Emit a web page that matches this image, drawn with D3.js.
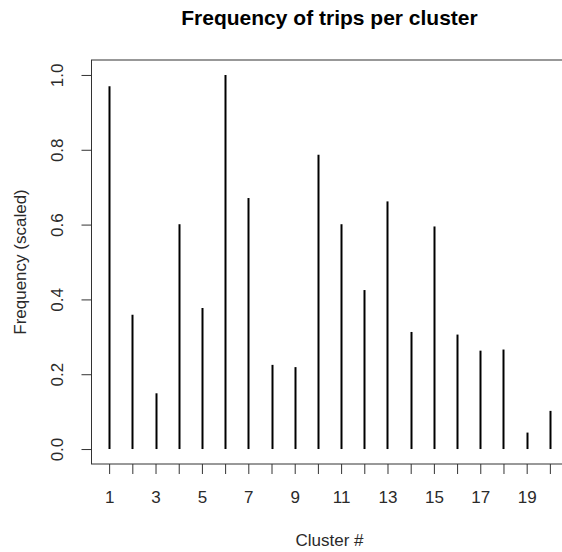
<!DOCTYPE html>
<html>
<head>
<meta charset="utf-8">
<script src="https://cdn.jsdelivr.net/npm/d3@7"></script>
<style>
  html, body { margin: 0; padding: 0; background: #fff; }
  svg { display: block; font-family: "Liberation Sans", Arial, sans-serif; }
</style>
</head>
<body>
<div id="chart"></div>
<script>
// cluster ids and their scaled trip frequencies
const clusters = [1, 2, 3, 4, 5, 6, 7, 8, 9, 10, 11, 12, 13, 14, 15, 16, 17, 18, 19, 20];
const frequency = [0.970, 0.359, 0.149, 0.601, 0.377, 1.000, 0.671, 0.225, 0.219, 0.787,
                   0.601, 0.425, 0.662, 0.313, 0.595, 0.306, 0.263, 0.266, 0.044, 0.102];
const xTickLabels = [1, 3, 5, 7, 9, 11, 13, 15, 17, 19];
const yTicks = [0, 0.2, 0.4, 0.6, 0.8, 1.0];

const width = 562;
const height = 552;
// plot box (R style: 4% padding around the data range)
const boxLeft = 91.5, boxRight = 567.5, boxTop = 60, boxBottom = 464;
const textColor = '#2a2a2a';

const x = d3.scaleLinear()
    .domain([1 - 0.76, 20 + 0.76])
    .range([boxLeft, boxRight]);

const y = d3.scaleLinear()
    .domain([-0.04, 1.04])
    .range([boxBottom, boxTop]);

const svg = d3.select('#chart')
    .append('svg')
    .attr('width', width)
    .attr('height', height)
    .attr('viewBox', [0, 0, width, height]);

const data = clusters.map((c, i) => ({cluster: c, value: frequency[i]}));

// vertical "h" type lines
svg.append('g')
    .attr('stroke', '#000')
    .attr('stroke-width', 2)
    .selectAll('line')
    .data(data)
    .join('line')
    .attr('x1', d => Math.round(x(d.cluster)) + 0.5)
    .attr('x2', d => Math.round(x(d.cluster)) + 0.5)
    .attr('y1', y(0))
    .attr('y2', d => y(d.value));

// box
svg.append('rect')
    .attr('x', boxLeft)
    .attr('y', boxTop)
    .attr('width', boxRight - boxLeft)
    .attr('height', boxBottom - boxTop)
    .attr('fill', 'none')
    .attr('stroke', '#333')
    .attr('stroke-width', 1);

// x axis: tick at every cluster, labels only on odd ones
const xAxis = svg.append('g')
    .attr('transform', `translate(0,${boxBottom})`)
    .call(d3.axisBottom(x)
        .tickValues(clusters)
        .tickSize(10)
        .tickSizeOuter(0)
        .tickPadding(17)
        .tickFormat(d => xTickLabels.includes(d) ? d : ''));
xAxis.select('.domain').remove();
xAxis.selectAll('line').attr('stroke', '#333');
xAxis.selectAll('text')
    .attr('fill', textColor)
    .style('font-size', '17px')
    .style('font-family', '"Liberation Sans", Arial, sans-serif');

// y axis with rotated labels
const yAxis = svg.append('g')
    .attr('transform', `translate(${boxLeft},0)`)
    .call(d3.axisLeft(y)
        .tickValues(yTicks)
        .tickSize(10)
        .tickSizeOuter(0)
        .tickFormat(d3.format('.1f')));
yAxis.select('.domain').remove();
yAxis.selectAll('line').attr('stroke', '#333');
yAxis.selectAll('text')
    .attr('fill', textColor)
    .attr('x', null)
    .attr('dy', null)
    .attr('text-anchor', 'middle')
    .attr('transform', 'translate(-29,0) rotate(-90)')
    .style('font-size', '17px')
    .style('font-family', '"Liberation Sans", Arial, sans-serif');

// title
svg.append('text')
    .attr('x', (boxLeft + boxRight) / 2)
    .attr('y', 25)
    .attr('text-anchor', 'middle')
    .attr('fill', '#000')
    .style('font-size', '21px')
    .style('font-weight', 'bold')
    .text('Frequency of trips per cluster');

// axis titles
svg.append('text')
    .attr('x', (boxLeft + boxRight) / 2)
    .attr('y', 546)
    .attr('text-anchor', 'middle')
    .attr('fill', textColor)
    .style('font-size', '17px')
    .text('Cluster #');

svg.append('text')
    .attr('transform', `translate(25.5,${(boxTop + boxBottom) / 2}) rotate(-90)`)
    .attr('text-anchor', 'middle')
    .attr('fill', textColor)
    .style('font-size', '17px')
    .text('Frequency (scaled)');
</script>
</body>
</html>
